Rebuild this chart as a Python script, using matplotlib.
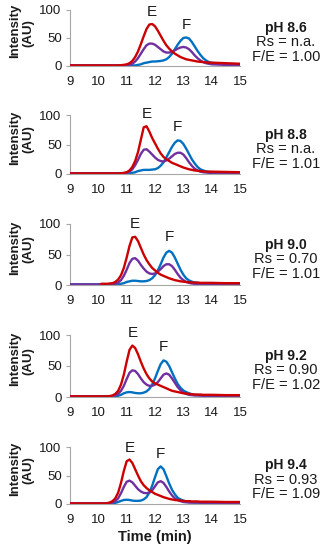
import numpy as np
import matplotlib
matplotlib.use("Agg")
import matplotlib.pyplot as plt

plt.rcParams['font.family'] = ['Liberation Sans', 'DejaVu Sans']

nan = np.nan

# elution time grid (min), shared by all traces
times = [9.0, 9.5, 10.0,
         10.1, 10.2, 10.3, 10.4, 10.5, 10.6, 10.7, 10.8, 10.9,
         11.0, 11.1, 11.2, 11.3, 11.4, 11.5, 11.6, 11.7, 11.8, 11.9,
         12.0, 12.1, 12.2, 12.3, 12.4, 12.5, 12.6, 12.7, 12.8, 12.9,
         13.0, 13.1, 13.2, 13.3, 13.4, 13.5, 13.6, 13.7, 13.8, 13.9,
         14.0, 14.5, 15.0]

ph_labels = ['pH 8.6', 'pH 8.8', 'pH 9.0', 'pH 9.2', 'pH 9.4']
rs_labels = ['Rs = n.a.', 'Rs = n.a.', 'Rs = 0.70', 'Rs = 0.90', 'Rs = 0.93']
fe_labels = ['F/E = 1.00', 'F/E = 1.01', 'F/E = 1.01', 'F/E = 1.02', 'F/E = 1.09']

# red trace (E), one list per pH
red = [
    [1, 1, 1,
     1, 1, 1, 1, 1, 1, 1, 1.5, 2,
     3, 5, 9, 16, 26, 39, 53, 66, 74, 75,
     71, 63, 54, 45, 37, 31, 26, 22, 19, 16,
     14, 12, 11, 10, 9, 8, 7.5, 7, 6.5, 6,
     6, 5, 4],
    [1, 1, 1,
     1, 1, 1, 1, 1, 1, 1, 1, 2,
     3, 6, 12, 22, 37, 58, 79, 81, 72, 61,
     52, 43, 35, 29, 25, 22, 19, 17, 15, 13,
     11, 9.5, 8, 7, 6, 5.5, 5, 4.5, 4, 4,
     4, 3.5, 3],
    [nan, nan, nan,
     2, 2, 2, 2.5, 3, 5, 9, 16, 28,
     45, 64, 78, 79, 72, 61, 50, 41, 34, 28,
     24, 20, 17, 15, 13, 11, 9.5, 8, 7, 6,
     5.5, 5, 4.5, 4, 4, 4, 3.5, 3.5, 3.5, 3.5,
     3.5, 3, 3],
    [1, 1, 1,
     1, 1, 1, 1.5, 2.5, 5, 10, 20, 36,
     57, 76, 83, 79, 69, 57, 46, 37, 30, 25,
     22, 20, 18, 16, 14, 12, 10, 9, 8, 7,
     6, 5.5, 5, 4.5, 4, 4, 4, 3.5, 3.5, 3.5,
     3.5, 3, 3],
    [1, 1, 1,
     1, 1, 1.5, 2.5, 5, 10, 20, 37, 58,
     75, 78, 72, 61, 50, 40, 33, 28, 24, 21,
     18, 16, 14, 12, 10.5, 9, 8, 7, 6.5, 6,
     5.5, 5, 5, 4.5, 4.5, 4.5, 4, 4, 4, 4,
     4, 3.5, 3.5],
]

# purple trace (mixture)
purple = [
    [1, 1, 1,
     1, 1, 1, 1, 1, 1, 1, 1, 1,
     1, 2, 4, 8, 14, 22, 30, 37, 40, 40,
     38, 34, 30, 26, 24, 24, 25, 28, 31, 33,
     34, 33, 30, 25, 19, 14, 10, 7, 5, 4,
     3, 2, 2],
    [1, 1, 1,
     1, 1, 1, 1, 1, 1, 1, 1, 1,
     2, 4, 8, 15, 24, 34, 41, 42, 38, 33,
     28, 24, 22, 21, 23, 26, 30, 34, 36, 36,
     33, 27, 20, 14, 9, 6, 4, 3, 2.5, 2,
     2, 2, 2],
    [1, 1, 1,
     1, 1, 1, 1, 1.5, 2, 4, 8, 15,
     25, 36, 43, 44, 40, 33, 27, 22, 19, 18,
     19, 22, 26, 31, 34, 34, 31, 25, 18, 12,
     8, 5, 3.5, 2.5, 2, 2, 2, 2, 2, 2,
     2, 2, 2],
    [1, 1, 1,
     1, 1, 1, 1, 1.5, 2.5, 5, 10, 18,
     29, 39, 43, 42, 37, 30, 24, 20, 18, 18,
     20, 24, 30, 36, 38, 36, 30, 23, 16, 11,
     7, 5, 3.5, 3, 2.5, 2.5, 2.5, 2, 2, 2,
     2, 2, 2],
    [1, 1, 1,
     1, 1, 1, 1.5, 2.5, 5, 10, 19, 30,
     39, 41, 38, 32, 26, 22, 19.5, 19, 20, 24,
     31, 38, 40, 37, 30, 22, 15, 10, 7, 5,
     3.5, 3, 2.5, 2.5, 2.5, 2.5, 2, 2, 2, 2,
     2, 2, 2],
]

# blue trace (F)
blue = [
    [1, 1, 1,
     1, 1, 1, 1, 1, 1, 1, 1, 1,
     1, 1, 1, 1, 2, 3, 5, 6, 7, 8,
     8, 8.5, 9, 10, 12, 16, 22, 30, 38, 45,
     50, 51, 49, 43, 35, 27, 20, 14, 10, 7,
     5.5, 3, 2],
    [1, 1, 1,
     1, 1, 1, 1, 1, 1, 1, 1, 1,
     1, 1, 2, 3, 5, 6, 7, 7, 7, 7.5,
     8, 10, 14, 20, 28, 37, 46, 53, 57, 56,
     51, 43, 34, 25, 18, 12, 8, 6, 4.5, 3.5,
     3, 2, 1.5],
    [1, 1, 1,
     1, 1, 1, 1, 1, 1, 1, 2, 3,
     5, 6, 7, 7, 6.5, 6, 6, 6.5, 8, 11,
     16, 24, 34, 45, 53, 56, 53, 45, 35, 25,
     17, 11, 7.5, 5.5, 4, 3.5, 3, 2.5, 2.5, 2,
     2, 1.5, 1.5],
    [1, 1, 1,
     1, 1, 1, 1, 1, 1, 2, 3.5, 6,
     7.5, 8, 7.5, 6.5, 6, 6, 7, 9, 13, 20,
     30, 42, 53, 59, 57, 50, 40, 30, 21, 15,
     10.5, 8, 6, 4.5, 3.5, 3, 2.5, 2.5, 2, 2,
     2, 1.5, 1.5],
    [1, 1, 1,
     1, 1, 1, 1, 1, 2, 3.5, 5.5, 7,
     7.5, 7, 6, 5.5, 5.5, 6, 8, 12, 20, 32,
     47, 61, 66, 61, 49, 36, 25, 17, 11, 8,
     6, 4.5, 3.5, 3, 2.5, 2.5, 2.5, 2, 2, 2,
     2, 1.5, 1.5],
]

RED = '#CC0000'
PURPLE = '#7030A0'
BLUE = '#0070C0'
GRAY = '#A6A6A6'
TXT = '#1a1a1a'

W, H = 322, 550
fig = plt.figure(figsize=(W / 100, H / 100), dpi=100)
fig.patch.set_facecolor('white')

# pixel extents of each panel (top = 100, bottom = 0)
tops = [10, 115, 224, 335, 447]
bottoms = [66, 174, 285, 397, 504]
x0, x1 = 70, 240

t = np.array(times)
for i in range(5):
    ax = fig.add_axes([x0 / W, 1 - bottoms[i] / H, (x1 - x0) / W, (bottoms[i] - tops[i]) / H])
    ax.set_facecolor('none')
    r = np.array(red[i], dtype=float)
    p = np.array(purple[i], dtype=float)
    b = np.array(blue[i], dtype=float)
    ax.plot(t, b, color=BLUE, lw=1.7, solid_capstyle='round')
    ax.plot(t, p, color=PURPLE, lw=1.7, solid_capstyle='round')
    ax.plot(t, r, color=RED, lw=1.7, solid_capstyle='round')

    ax.set_xlim(9, 15)
    ax.set_ylim(0, 100)
    ax.set_xticks(range(9, 16))
    ax.set_yticks([0, 50, 100])
    ax.tick_params(axis='x', length=0, pad=7, labelsize=9.5, labelcolor=TXT)
    ax.tick_params(axis='y', length=3, width=0.8, color=GRAY, pad=3, labelsize=9.5, labelcolor=TXT)
    for s in ['top', 'right']:
        ax.spines[s].set_visible(False)
    for s in ['left', 'bottom']:
        ax.spines[s].set_color(GRAY)
        ax.spines[s].set_linewidth(0.8)
    ax.spines['left'].set_zorder(0)

    # peak labels
    ir = np.nanargmax(r)
    ib = np.nanargmax(b)
    ax.text(t[ir], r[ir] + 21, 'E', ha='center', va='center', fontsize=11, color=TXT, clip_on=False)
    ax.text(t[ib], b[ib] + 22, 'F', ha='center', va='center', fontsize=11, color=TXT, clip_on=False)

    # y label
    cpx = (tops[i] + bottoms[i]) / 2
    fig.text(15 / W, 1 - (cpx - 7) / H, 'Intensity', rotation=90, ha='center', va='center',
             fontsize=9.5, fontweight='bold', color=TXT)
    fig.text(28 / W, 1 - (cpx - 5) / H, '(AU)', rotation=90, ha='center', va='center',
             fontsize=9.5, fontweight='bold', color=TXT)

    # condition text on the right
    ytop = cpx - 10
    fig.text(286 / W, 1 - ytop / H, ph_labels[i], ha='center', va='center',
             fontsize=10, fontweight='bold', color=TXT)
    fig.text(286 / W, 1 - (ytop + 14.5) / H, rs_labels[i], ha='center', va='center',
             fontsize=10.5, color=TXT)
    fig.text(286 / W, 1 - (ytop + 29) / H, fe_labels[i], ha='center', va='center',
             fontsize=10.5, color=TXT)

fig.text(155 / W, 1 - 537 / H, 'Time (min)', ha='center', va='center',
         fontsize=10.5, fontweight='bold', color=TXT)

fig.savefig('out.png', dpi=100)
